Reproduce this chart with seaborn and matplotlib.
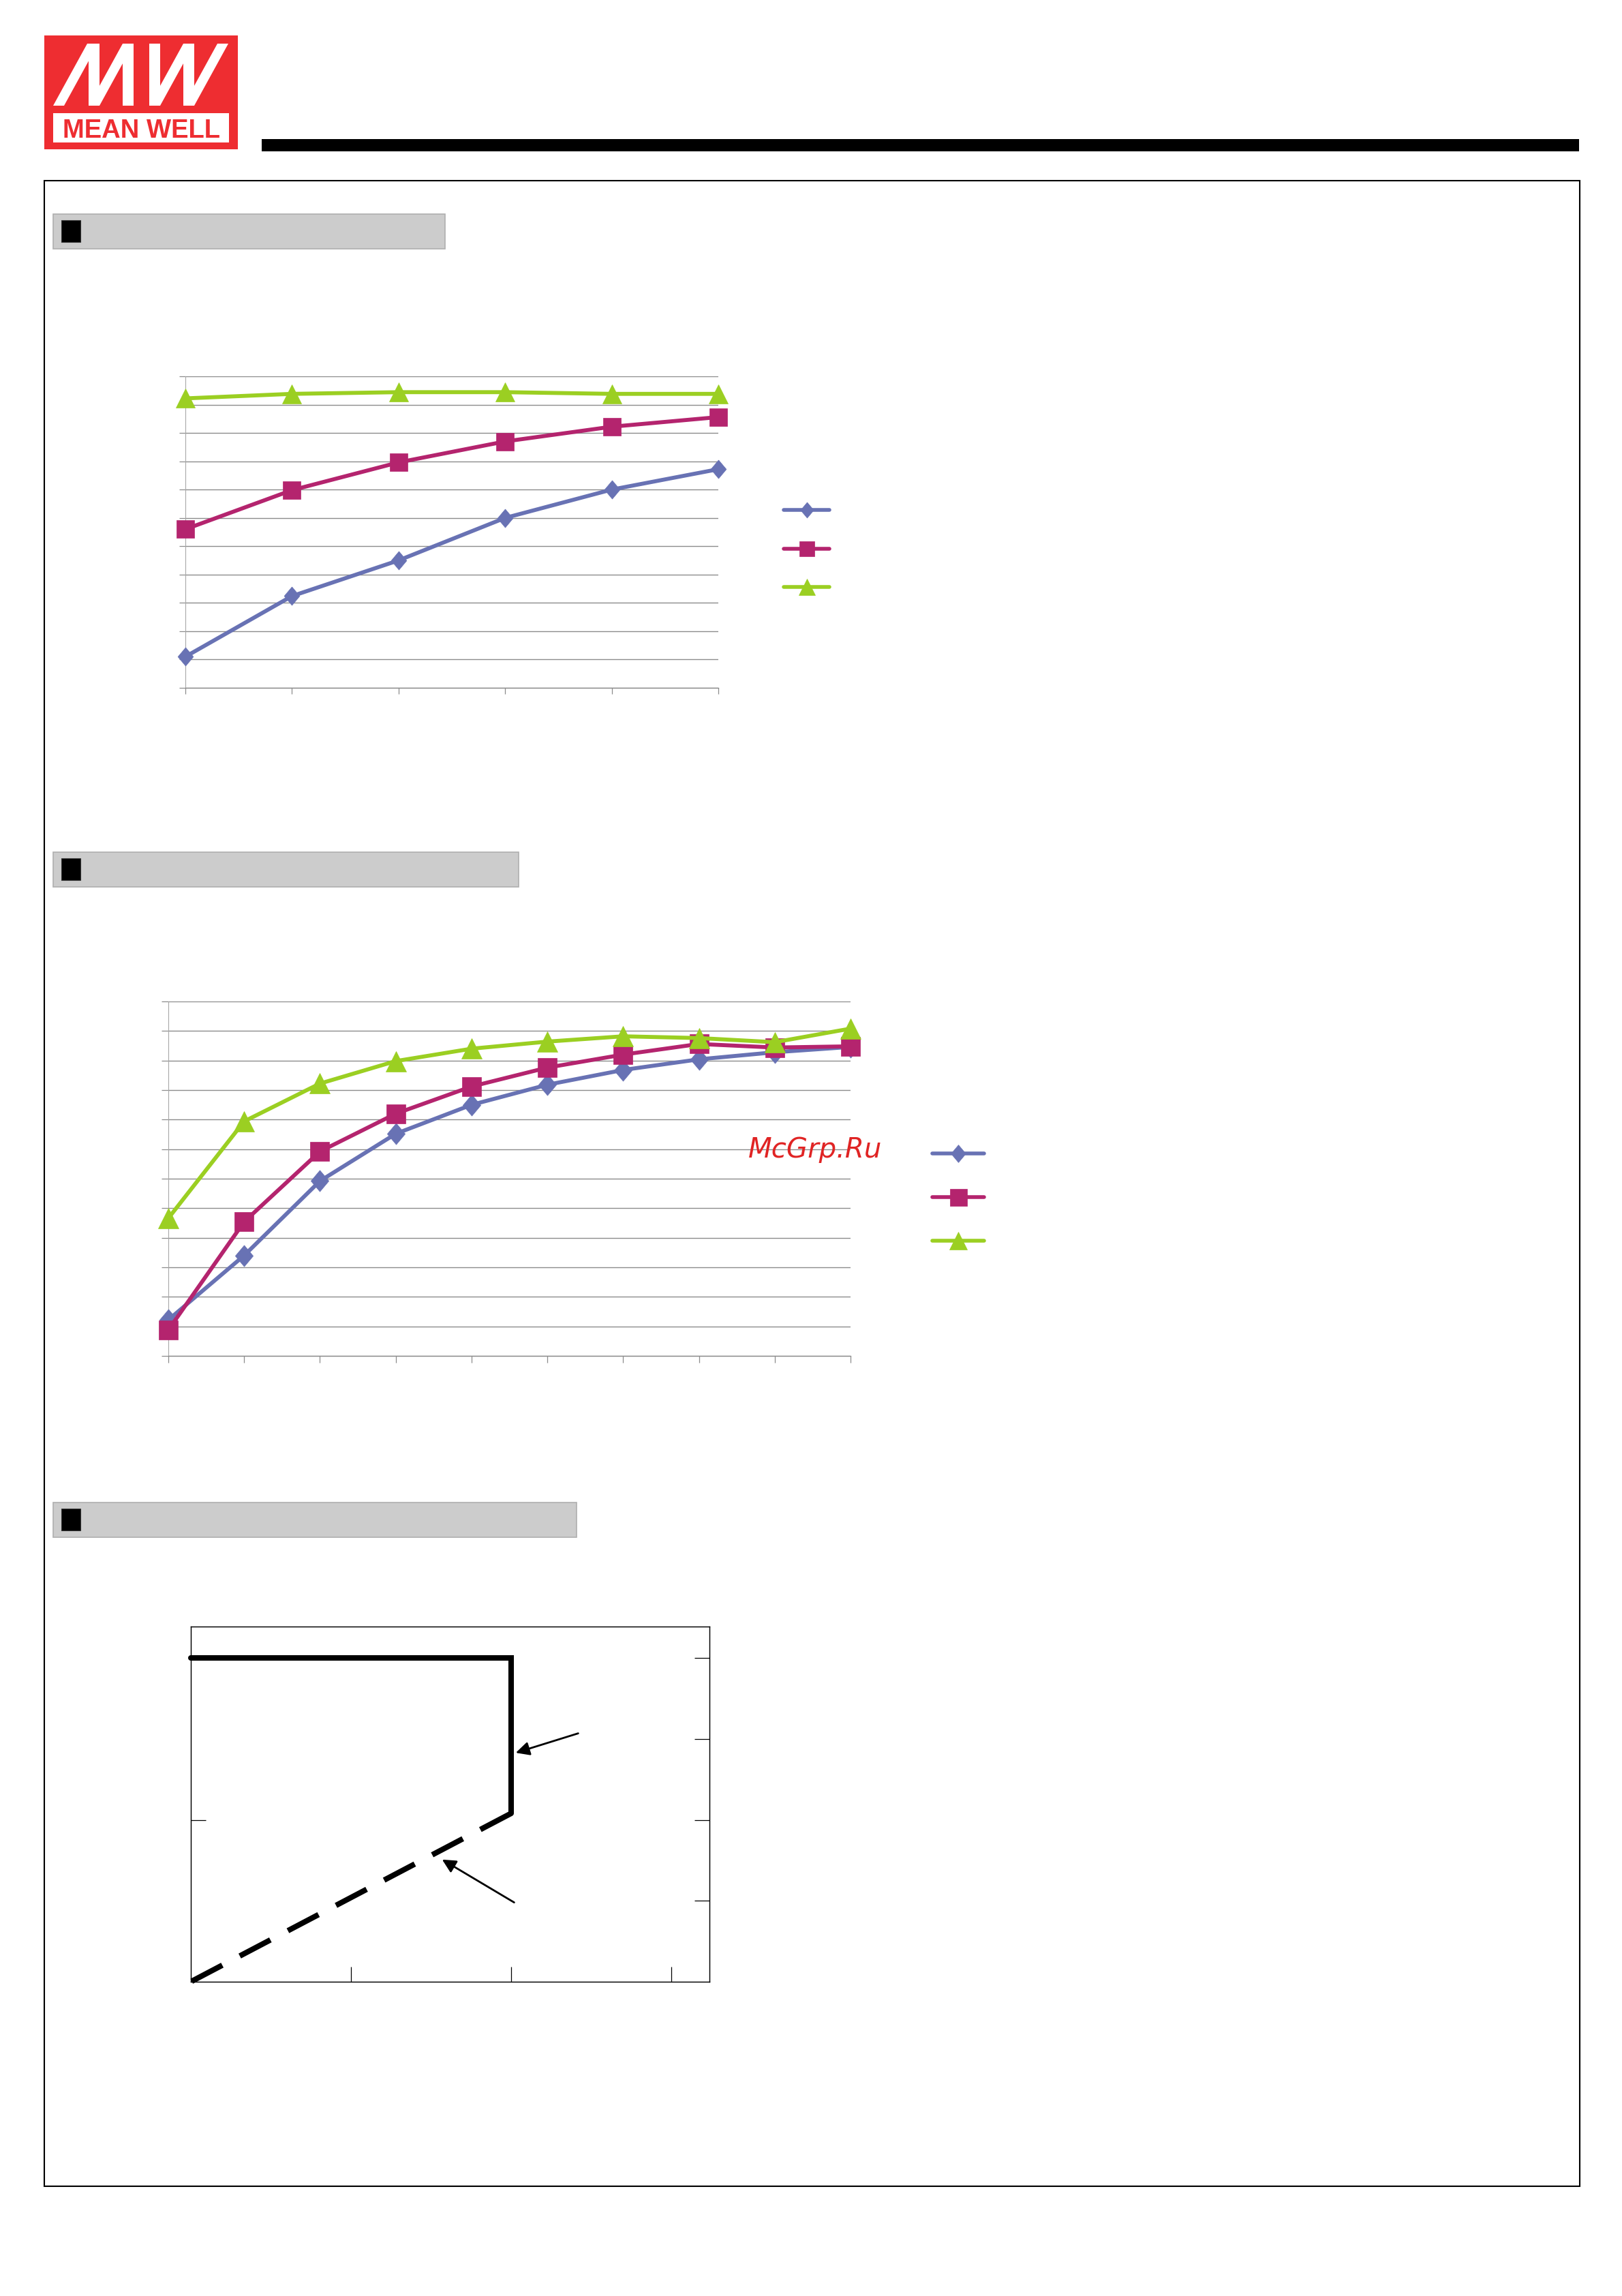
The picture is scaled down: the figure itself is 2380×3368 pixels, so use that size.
import matplotlib
matplotlib.use("Agg")
import matplotlib.pyplot as plt
from matplotlib.patches import Rectangle, Polygon
import seaborn as sns

# --- Page geometry (pixels of the final png) ---
W, H = 2380, 3368
DPI = 100

blue = "#6872B4"
magenta = "#B4246E"
green = "#9BCF22"
logo_red = "#EE2D31"
grid_gray = "#8C8C8C"

# --- Chart 1: efficiency, 6 points ---
eff_x = [1, 2, 3, 4, 5, 6]
eff_blue = [50.5, 61.2, 67.5, 75.0, 80.0, 83.6]
eff_magenta = [73.0, 79.9, 84.8, 88.5, 91.1, 92.8]
eff_green = [96.1, 96.9, 97.2, 97.2, 96.9, 96.9]
eff_yticks = list(range(45, 101, 5))

# --- Chart 2: efficiency vs load, 10 points ---
load_x = [10, 20, 30, 40, 50, 60, 70, 80, 90, 100]
load_blue = [36.1, 47.0, 59.6, 67.6, 72.5, 75.9, 78.4, 80.2, 81.4, 82.3]
load_magenta = [34.4, 52.7, 64.6, 71.0, 75.6, 78.8, 81.0, 82.8, 82.2, 82.4]
load_green = [53.3, 69.7, 76.1, 79.9, 82.0, 83.2, 84.1, 83.8, 83.1, 85.4]
load_yticks = list(range(30, 91, 5))

# --- Chart 3: output characteristic ---
vi_xticks = [1, 2, 3]
vi_yticks_right = [1, 2, 3, 4]
vi_ytick_left = [2]
cv_x = [0, 2, 2]
cv_y = [4, 4, 2.08]
cc_x = [2, 0]
cc_y = [2.08, 0]

diamond = [(0, 1), (0.84, 0), (0, -1), (-0.84, 0), (0, 1)]

sns.set_theme(style="white")
plt.rcParams['font.family'] = ['DejaVu Sans']


def px_rect(x0, y0, x1, y1):
    return [x0 / W, 1 - y1 / H, (x1 - x0) / W, (y1 - y0) / H]


fig = plt.figure(figsize=(W / DPI, H / DPI), dpi=DPI)

# --- page decorations in pixel coords ---
bg = fig.add_axes([0, 0, 1, 1])
bg.set_xlim(0, W)
bg.set_ylim(H, 0)
bg.axis('off')

bg.add_patch(Rectangle((65, 52), 284, 167, color=logo_red, lw=0))
bg.add_patch(Rectangle((78, 166), 258, 43, color="white", lw=0))
bg.text(207.5, 202, "MEAN WELL", ha="center", va="baseline", fontsize=27.5,
        fontweight="bold", color=logo_red, family=["Liberation Sans", "DejaVu Sans"])

# stylised MW strokes: slanted bars and upright bars
yt, yb, sw, run = 64, 155, 16, 50
for x0 in [78, 130, 219, 269]:
    bg.add_patch(Polygon([(x0, yb), (x0 + sw, yb), (x0 + sw + run, yt), (x0 + run, yt)],
                         closed=True, color="white", lw=0))
for x0 in [130, 180, 219, 269]:
    bg.add_patch(Rectangle((x0, yt), sw, yb - yt, color="white", lw=0))

bg.add_patch(Rectangle((384, 204), 2317 - 384, 18, color="black", lw=0))
bg.add_patch(Rectangle((65, 265), 2318 - 65, 3207 - 265, fill=False, ec="black", lw=1.5))

for (bx0, by0, bx1, by1) in [(78, 314, 653, 365), (78, 1250, 761, 1301), (78, 2204, 846, 2255)]:
    bg.add_patch(Rectangle((bx0, by0), bx1 - bx0, by1 - by0, fc="#CCCCCC", ec="#AFAFAF", lw=1.2))
    bg.add_patch(Rectangle((90, by0 + 9), 28, 32, fc="black", ec="#333333", lw=0.8))


def plot_series(ax, x, y, color, marker, ms):
    sns.lineplot(x=x, y=y, ax=ax, color=color, lw=4.2, marker=marker, markersize=ms,
                 markeredgecolor=color, markeredgewidth=0.5, clip_on=False,
                 sort=False, estimator=None, errorbar=None, zorder=3)


def style_eff(ax, xs, yticks, tick_len):
    ax.set_xlim(xs[0], xs[-1])
    ax.set_ylim(yticks[0], yticks[-1])
    ax.set_xticks(xs)
    ax.set_yticks(yticks)
    ax.set_facecolor("none")
    ax.grid(axis="y", color=grid_gray, lw=1.0)
    ax.grid(axis="x", visible=False)
    ax.set_axisbelow(True)
    for s in ["top", "right"]:
        ax.spines[s].set_visible(False)
    ax.spines["left"].set_color("#A8A8A8")
    ax.spines["left"].set_linewidth(0.8)
    ax.spines["bottom"].set_color(grid_gray)
    ax.spines["bottom"].set_linewidth(1.0)
    ax.tick_params(left=True, bottom=True, direction="out", length=tick_len, width=0.9,
                   color=grid_gray, labelleft=False, labelbottom=False)
    ax.set_xlabel("")
    ax.set_ylabel("")


def draw_legend(box, styles, lw):
    lax = fig.add_axes(px_rect(*box))
    lax.set_xlim(0, 1)
    lax.set_ylim(2, 0)
    lax.axis("off")
    for row, (color, marker, ms) in enumerate(styles):
        lax.plot([0, 1], [row, row], color=color, lw=lw, clip_on=False)
        lax.plot([0.5], [row], marker=marker, ms=ms, color=color, mec=color, mew=0.5,
                 clip_on=False)


# --- Chart 1 ---
ax1 = fig.add_axes(px_rect(272, 552, 1054, 1009))
plot_series(ax1, eff_x, eff_blue, blue, diamond, 19.5)
plot_series(ax1, eff_x, eff_magenta, magenta, "s", 19)
plot_series(ax1, eff_x, eff_green, green, "^", 19.5)
style_eff(ax1, eff_x, eff_yticks, 6.5)
draw_legend((1150, 748, 1217, 861), [(blue, diamond, 16.5), (magenta, "s", 16),
                                     (green, "^", 17)], 4.0)

# --- Chart 2 ---
ax2 = fig.add_axes(px_rect(247, 1469, 1248, 1989))
plot_series(ax2, load_x, load_blue, blue, diamond, 22.5)
plot_series(ax2, load_x, load_magenta, magenta, "s", 20.5)
plot_series(ax2, load_x, load_green, green, "^", 22)
style_eff(ax2, load_x, load_yticks, 7.2)
draw_legend((1368, 1692, 1444, 1820), [(blue, diamond, 18.5), (magenta, "s", 18),
                                       (green, "^", 19)], 4.0)

fig.text(1098 / W, 1 - 1698 / H, "McGrp.Ru", color="#E02424", fontsize=29,
         style="italic", ha="left", va="baseline", zorder=10)

# --- Chart 3 ---
ax3 = fig.add_axes(px_rect(280, 2386, 1041, 2907))
sns.lineplot(x=cv_x, y=cv_y, ax=ax3, color="black", lw=5.8, sort=False, estimator=None,
             errorbar=None, clip_on=False, solid_joinstyle="miter")
sns.lineplot(x=cc_x, y=cc_y, ax=ax3, color="black", lw=5.8, sort=False, estimator=None,
             errorbar=None, clip_on=False, linestyle=(0, (6.3, 3.6)))
ax3.set_xlim(0, 3.24)
ax3.set_ylim(0, 4.39)
ax3.set_xticks(vi_xticks)
ax3.set_yticks(vi_ytick_left)
ax3.tick_params(left=True, bottom=True, direction="in", length=16, width=0.9,
                color="black", labelleft=False, labelbottom=False)
ax3.set_xlabel("")
ax3.set_ylabel("")
for s in ax3.spines.values():
    s.set_color("black")
    s.set_linewidth(0.9)
ax3r = ax3.twinx()
ax3r.set_ylim(0, 4.39)
ax3r.set_yticks(vi_yticks_right)
ax3r.tick_params(right=True, direction="in", length=16, width=0.9, color="black",
                 labelright=False)
for s in ax3r.spines.values():
    s.set_color("black")
    s.set_linewidth(0.9)
ax3r.grid(False)
ax3.grid(False)

arrow_kw = dict(arrowstyle="-|>", color="black", lw=2, mutation_scale=30, shrinkA=0, shrinkB=0)
ax3.annotate("", xy=(2.03, 2.83), xytext=(2.42, 3.07), arrowprops=arrow_kw)
ax3.annotate("", xy=(1.57, 1.51), xytext=(2.02, 0.98), arrowprops=arrow_kw)

fig.savefig("out.png", dpi=DPI)
